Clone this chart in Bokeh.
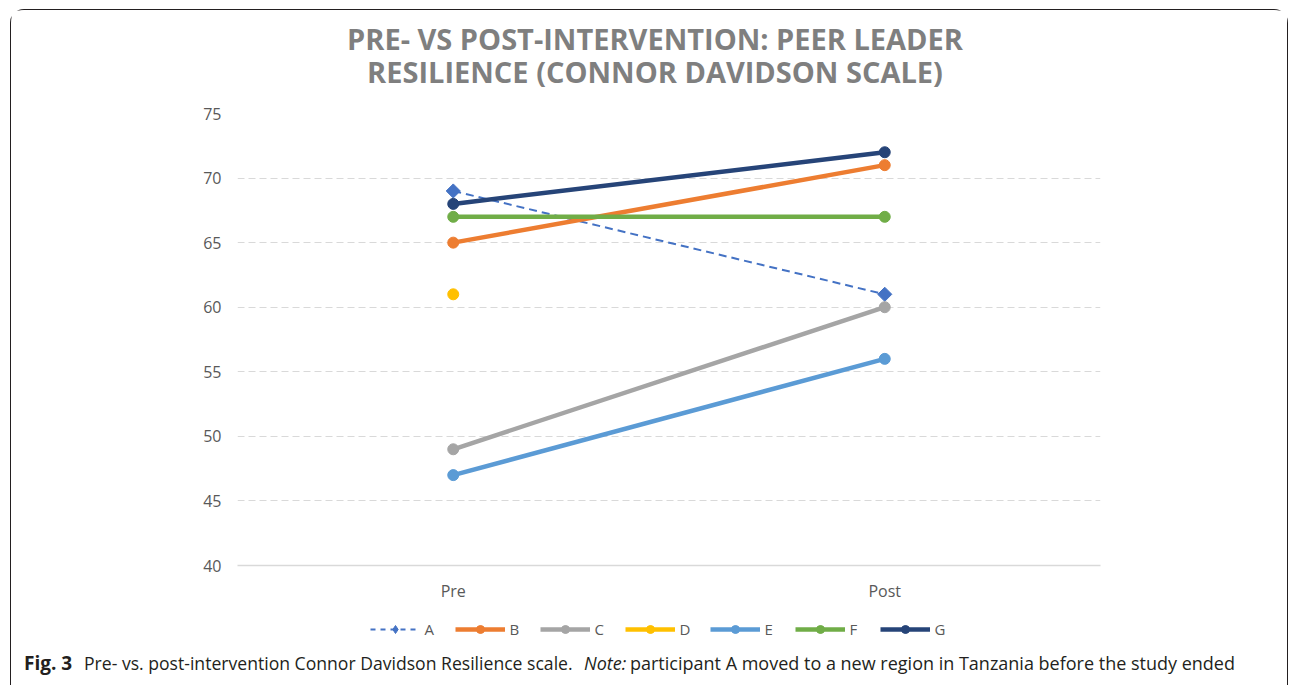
import math
from bokeh.plotting import figure
from bokeh.layouts import column, row
from bokeh.models import (FactorRange, Range1d, Legend, LegendItem, Label,
                          SingleIntervalTicker)
from bokeh.embed import file_html
from bokeh.resources import INLINE

# ---- data ----
phases = ["Pre", "Post"]
participants = ["A", "B", "C", "D", "E", "F", "G"]
A = [69, 61]
B = [65, 71]
C = [49, 60]
D = [61, float("nan")]
E = [47, 56]
F = [67, 67]
G = [68, 72]
series_values = [A, B, C, D, E, F, G]
colors = ["#4472C4", "#ED7D31", "#A5A5A5", "#FFC000", "#5B9BD5", "#70AD47", "#264478"]

title_lines = ["PRE- VS POST-INTERVENTION: PEER LEADER",
               "RESILIENCE (CONNOR DAVIDSON SCALE)"]
caption_parts = [
    ("Fig. 3", "bold"),
    ("Pre- vs. post-intervention Connor Davidson Resilience scale.", "normal"),
    ("Note:", "italic"),
    ("participant A moved to a new region in Tanzania before the study ended", "normal"),
]

OX, OY = 11.5, 10.5   # inner origin of the bordered box on the page
W = 1276
H_TOP, H_MAIN, H_BOT = 85, 515, 75
NAN = float("nan")


def blank(height):
    f = figure(width=W, height=height, x_range=Range1d(0, W), y_range=Range1d(height, 0),
               output_backend="svg", toolbar_location=None,
               x_axis_location=None, y_axis_location=None, min_border=0)
    f.grid.visible = False
    f.outline_line_color = None
    return f


# ---- title strip ----
p1 = blank(H_TOP)
for i, t in enumerate(title_lines):
    p1.add_layout(Label(x=655 - OX, y=38 + 33 * i - OY, text=t, text_align="center",
                        text_baseline="alphabetic", text_font="Open Sans",
                        text_font_style="bold", text_font_size="29px",
                        text_color="#7f7f7f"))

# ---- main chart ----
top_main = OY + H_TOP
p = figure(width=W, height=H_MAIN, x_range=FactorRange(*phases),
           y_range=Range1d(40, 75), output_backend="svg", toolbar_location=None,
           min_border_left=int(238 - OX), min_border_right=int(OX + W - 1100),
           min_border_top=int(114 - top_main), min_border_bottom=int(top_main + H_MAIN - 565))
p.outline_line_color = None

p.yaxis.ticker = SingleIntervalTicker(interval=5)
p.yaxis.axis_line_color = None
p.yaxis.major_tick_line_color = None
p.yaxis.major_tick_out = 0
p.yaxis.minor_tick_line_color = None
p.yaxis.minor_tick_out = 0
p.yaxis.major_label_text_font = "Open Sans"
p.yaxis.major_label_text_font_size = "16px"
p.yaxis.major_label_text_color = "#595959"
p.yaxis.major_label_standoff = 16

p.xaxis.axis_line_color = "#d9d9d9"
p.xaxis.axis_line_width = 1.5
p.xaxis.major_tick_line_color = None
p.xaxis.major_tick_out = 0
p.xaxis.minor_tick_line_color = None
p.xaxis.minor_tick_out = 0
p.xaxis.major_label_text_font = "Open Sans"
p.xaxis.major_label_text_font_size = "16px"
p.xaxis.major_label_text_color = "#595959"
p.xaxis.major_label_standoff = 14

p.xgrid.grid_line_color = None
p.ygrid.grid_line_color = "#d9d9d9"
p.ygrid.grid_line_dash = "7 4"
p.ygrid.grid_line_width = 1

for name, vals, col in zip(participants, series_values, colors):
    if name == "A":
        p.line(phases, vals, line_color=col, line_width=2, line_dash="8 5")
        p.scatter(phases, vals, marker="square", size=10, angle=math.pi / 4, color=col)
    else:
        p.line(phases, vals, line_color=col, line_width=4.5)
        p.scatter(phases, vals, marker="circle", size=11, color=col)

# ---- legend + caption strip ----
top_bot = top_main + H_MAIN
p3 = blank(H_BOT)
items = []
for name, col in zip(participants, colors):
    if name == "A":
        ln = p3.line([NAN], [NAN], line_color=col, line_width=2, line_dash="5 5")
        mk = p3.scatter([NAN], [NAN], marker="diamond", size=13, color=col)
    else:
        ln = p3.line([NAN], [NAN], line_color=col, line_width=4.5)
        mk = p3.scatter([NAN], [NAN], marker="circle", size=11, color=col)
    items.append(LegendItem(label=name, renderers=[ln, mk]))

legend = Legend(items=items, orientation="horizontal",
                location=(370 - OX, H_BOT - (639 - top_bot)),
                glyph_width=50, glyph_height=20, label_standoff=5, spacing=10,
                padding=0, margin=0, border_line_color=None,
                background_fill_alpha=0,
                label_text_font="Open Sans", label_text_font_size="15px",
                label_text_color="#595959")
p3.add_layout(legend, "center")

cap_x = [24, 84, 584, 630]
cap_size = ["19px", "17.6px", "18px", "18px"]
for x0, (txt, style), fs in zip(cap_x, caption_parts, cap_size):
    p3.add_layout(Label(x=x0 - OX, y=663 - top_bot, text=txt, text_align="left",
                        text_baseline="alphabetic", text_font="Open Sans",
                        text_font_style=style, text_font_size=fs,
                        text_color="#231f20"))

layout = column(row(p1), row(p), row(p3), spacing=0, margin=(9, 0, 0, 10),
                styles={"border": "1.5px solid #231f20", "border-bottom": "none",
                        "border-radius": "14px 14px 0 0"})

open("out.html", "w").write(file_html(layout, INLINE))
